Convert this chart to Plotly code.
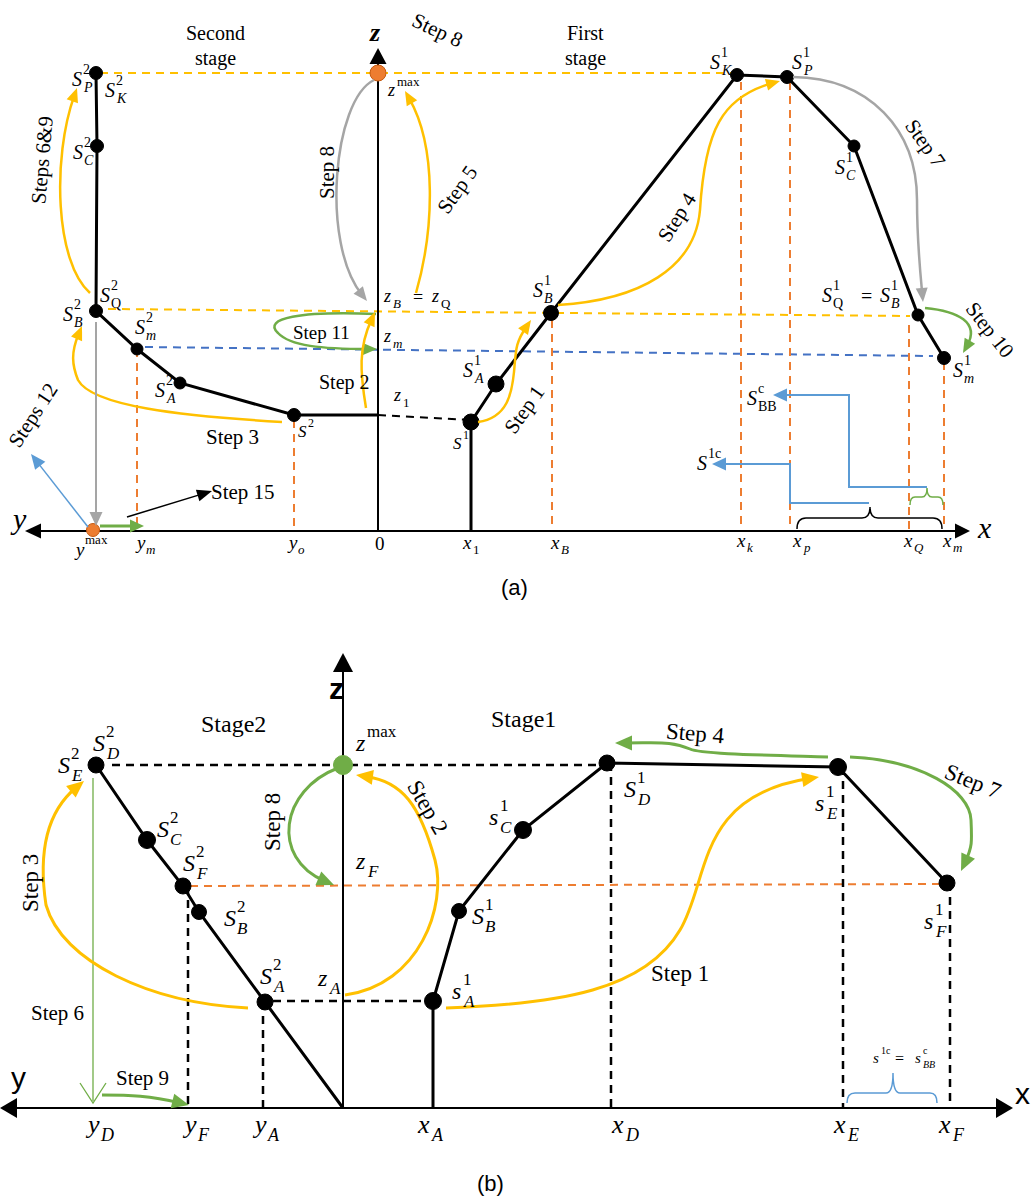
import math
import plotly.graph_objects as go

W, H = 1034, 1203
SERIF = "Liberation Serif"
SANS = "Liberation Sans"
YEL, ORG, BLU, LBL, GRN, GRY = "#FFC000", "#ED7D31", "#4472C4", "#5B9BD5", "#70AD47", "#A5A5A5"

# ---------------- Panel (a) data (pixel layout units) ----------------
a_axis_y = 531
a_axis_ends = [25, 970]
a_z_x = 378
a_z_top = 48
a_s2_x = [96, 97, 96, 137, 180, 294]          # S2_P, S2_C, S2_Q(B), S2_m, S2_A, S2
a_s2_y = [73, 146, 311, 349, 383, 415]
a_s2_size = [13, 13, 13, 12, 12, 13]
a_s1_x = [471, 496, 551, 737, 787, 854, 918, 944]  # S1, S1_A, S1_B, S1_K, S1_P, S1_C, S1_Q, S1_m
a_s1_y = [422, 384, 313, 75, 77, 146, 315, 358]
a_s1_size = [16, 16, 15, 13, 13, 12, 12, 13]
a_orange_x = [378, 93]
a_orange_y = [73, 530]
a_vguide_x = [137, 294, 552, 741, 790, 909, 944]
a_vguide_top = [349, 420, 320, 82, 82, 325, 362]
a_zmax_line_x = [100, 737]
a_zmax_line_y = [73, 73]
a_zb_line_x = [108, 910]
a_zb_line_y = [309, 316]
a_zm_line_x = [145, 933]
a_zm_line_y = [347, 356]
a_z1_line_x = [378, 471]
a_z1_line_y = [415, 420]
a_tick_x = [79, 140, 292, 467, 555, 741, 797, 908, 947]
a_tick_y = [549, 542, 542, 542, 542, 540, 540, 540, 540]
a_tick_base = ["y", "y", "y", "x", "x", "x", "x", "x", "x"]
a_tick_sup = ["max", "", "", "", "", "", "", "", ""]
a_tick_sub = ["", "m", "o", "1", "B", "k", "p", "Q", "m"]

# ---------------- Panel (b) data ----------------
b_axis_y = 1108
b_axis_ends = [0, 1013]
b_z_x = 343
b_z_top = 653
b_s2_x = [96, 147, 183, 199, 265, 343]        # S2_D/E, S2_C, S2_F, S2_B, S2_A, origin
b_s2_y = [765, 840, 886, 912, 1002, 1108]
b_s1_x = [433, 433, 459, 523, 607, 838, 947]  # base, S1_A, S1_B, S1_C, S1_D, S1_E, S1_F
b_s1_y = [1108, 1001, 911, 830, 763, 767, 883]
b_vguide_x = [188, 263, 611, 843, 950]
b_vguide_top = [886, 1002, 763, 767, 883]
b_top_line_x = [112, 607]
b_top_line_y = [765, 765]
b_za_line_x = [273, 433]
b_za_line_y = [1001, 1001]
b_zf_line_x = [190, 947]
b_zf_line_y = [886, 884]
b_tick_x = [92, 189, 259, 423, 617, 839, 944]
b_tick_base = ["y", "y", "y", "x", "x", "x", "x"]
b_tick_sub = ["D", "F", "A", "A", "D", "E", "F"]

fig = go.Figure()
shapes = []
annots = []


def line_trace(xs, ys, color, width, dash=None):
    fig.add_trace(go.Scatter(x=xs, y=ys, mode="lines", hoverinfo="skip", showlegend=False,
                             line=dict(color=color, width=width, dash=dash)))


def pts_trace(xs, ys, size, color="black", lc=None):
    fig.add_trace(go.Scatter(x=xs, y=ys, mode="markers", hoverinfo="skip", showlegend=False,
                             marker=dict(size=size, color=color, opacity=1,
                                         line=dict(color=lc or color, width=1))))


def path(d, color, width=2.5, fill=None):
    s = dict(type="path", path=d, xref="x", yref="y", line=dict(color=color, width=width))
    if fill:
        s["fillcolor"] = fill
        s["line"]["width"] = 0
    shapes.append(s)


def head(tip, frm, L, Wd, color, open_=False, lw=1.5):
    dx, dy = tip[0] - frm[0], tip[1] - frm[1]
    n = math.hypot(dx, dy)
    ux, uy = dx / n, dy / n
    bx, by = tip[0] - ux * L, tip[1] - uy * L
    px, py = -uy, ux
    p1 = (bx + px * Wd / 2, by + py * Wd / 2)
    p2 = (bx - px * Wd / 2, by - py * Wd / 2)
    if open_:
        path(f"M {p1[0]},{p1[1]} L {tip[0]},{tip[1]} L {p2[0]},{p2[1]}", color, lw)
    else:
        path(f"M {tip[0]},{tip[1]} L {p1[0]},{p1[1]} L {p2[0]},{p2[1]} Z", color, 0, fill=color)


def curve(pts, color, width=2.5, L=14, Wd=12):
    tip, c2 = pts[-1], pts[-2]
    dx, dy = tip[0] - c2[0], tip[1] - c2[1]
    n = math.hypot(dx, dy)
    sh = L * 0.6
    end = (tip[0] - dx / n * sh, tip[1] - dy / n * sh)
    c2s = (c2[0] - dx / n * sh, c2[1] - dy / n * sh)
    p = list(pts[:-2]) + [c2s, end]
    d = f"M {p[0][0]},{p[0][1]}"
    for i in range(1, len(p), 3):
        d += f" C {p[i][0]},{p[i][1]} {p[i+1][0]},{p[i+1][1]} {p[i+2][0]},{p[i+2][1]}"
    path(d, color, width)
    head(tip, c2, L, Wd, color)


def arrow(p0, p1, color, width=2, L=13, Wd=11):
    dx, dy = p1[0] - p0[0], p1[1] - p0[1]
    n = math.hypot(dx, dy)
    e = (p1[0] - dx / n * L * 0.6, p1[1] - dy / n * L * 0.6)
    path(f"M {p0[0]},{p0[1]} L {e[0]},{e[1]}", color, width)
    head(p1, p0, L, Wd, color)


def poly_arrow(pts, color, width=2, L=14, Wd=13):
    tip, frm = pts[-1], pts[-2]
    dx, dy = tip[0] - frm[0], tip[1] - frm[1]
    n = math.hypot(dx, dy)
    e = (tip[0] - dx / n * L * 0.6, tip[1] - dy / n * L * 0.6)
    p = list(pts[:-1]) + [e]
    d = "M " + " L ".join(f"{x},{y}" for x, y in p)
    path(d, color, width)
    head(tip, frm, L, Wd, color)


def txt(x, y, s, size=18, color="black", family=SERIF, angle=0, xanchor="center"):
    annots.append(dict(x=x, y=y, xref="x", yref="y", text=s, showarrow=False,
                       font=dict(size=size, color=color, family=family), textangle=angle,
                       xanchor=xanchor, yanchor="middle", borderpad=0))


def sym(x, y, base, sup="", sub="", size=20, sub_it=True):
    txt(x, y, f"<i>{base}</i>", size)
    small = round(size * 0.7)
    off = size * 0.27
    if sup:
        txt(x + off, y - size * 0.5, sup, small, xanchor="left")
    if sub:
        s = f"<i>{sub}</i>" if (sub_it and not sub.isdigit()) else sub
        txt(x + off, y + size * 0.42, s, small, xanchor="left")


# =============== Panel (a) ===============
line_trace(a_zmax_line_x, a_zmax_line_y, YEL, 2, "8px,6px")
line_trace(a_zb_line_x, a_zb_line_y, YEL, 2, "8px,6px")
line_trace(a_zm_line_x, a_zm_line_y, BLU, 2, "8px,6px")
for gx, gt in zip(a_vguide_x, a_vguide_top):
    line_trace([gx, gx], [gt, a_axis_y], ORG, 2, "8px,6px")
line_trace(a_z1_line_x, a_z1_line_y, "black", 2, "8px,6px")
line_trace([a_axis_ends[0] + 10, a_axis_ends[1] - 10], [a_axis_y, a_axis_y], "black", 2)
line_trace([a_z_x, a_z_x], [a_axis_y, a_z_top + 10], "black", 2)
head((a_axis_ends[0], a_axis_y), (a_axis_ends[0] + 20, a_axis_y), 16, 15, "black")
head((a_axis_ends[1], a_axis_y), (a_axis_ends[1] - 20, a_axis_y), 15, 15, "black")
head((a_z_x, a_z_top), (a_z_x, a_z_top + 20), 16, 17, "black")
line_trace(a_s2_x + [a_z_x], a_s2_y + [a_s2_y[-1]], "black", 3)
line_trace([a_s1_x[0]] + a_s1_x, [a_axis_y] + a_s1_y, "black", 3)

curve([(90, 293), (55, 262), (55, 150), (77, 88)], YEL)                       # Steps 6&9
curve([(374, 80), (333, 100), (326, 250), (367, 301)], GRY)                   # Step 8
curve([(416, 293), (434, 230), (433, 140), (405, 91)], YEL)                   # Step 5
curve([(376, 314), (300, 311), (262, 318), (278, 333), (290, 346), (330, 349), (377, 349)], GRN)  # Step 11
curve([(366, 408), (360, 372), (362, 340), (375, 312)], YEL)                  # Step 2
curve([(282, 422), (180, 416), (92, 406), (78, 380), (72, 365), (74, 345), (82, 326)], YEL)  # Step 3
curve([(478, 422), (508, 418), (512, 392), (514, 372), (516, 350), (520, 336), (531, 320)], YEL)  # Step 1
curve([(558, 305), (640, 300), (695, 268), (700, 210), (705, 130), (730, 95), (780, 81)], YEL)  # Step 4
curve([(793, 77), (870, 78), (917, 130), (917, 200), (917, 240), (920, 270), (923, 302)], GRY)  # Step 7
curve([(925, 308), (958, 311), (976, 330), (963, 353)], GRN)                  # Step 10
arrow((96, 322), (96, 526), GRY, 2, 14, 13)
arrow((100, 526), (144, 526), GRN, 3, 14, 13)
arrow((88, 527), (31, 454), LBL, 1.5, 15, 13)
arrow((127, 517), (212, 491), "black", 1.5, 15, 12)
poly_arrow([(927, 487), (849, 487), (849, 395), (773, 395)], LBL, 2)
poly_arrow([(869, 503), (790, 503), (790, 464), (712, 464)], LBL, 2)
path("M 797,529 Q 797,518 806,518 L 862,518 Q 870,518 870,507 Q 870,518 878,518 L 933,518 Q 942,518 942,529", "black", 1.5)
path("M 910,505 Q 910,497 915,497 L 922,497 Q 927,497 927,488 Q 927,497 932,497 L 938,497 Q 943,497 943,505", GRN, 1.5)

pts_trace(a_s2_x, a_s2_y, a_s2_size)
pts_trace(a_s1_x, a_s1_y, a_s1_size)
pts_trace(a_orange_x, a_orange_y, [16, 13], ORG, "#C55A11")

txt(215, 33, "Second", 20)
txt(215, 58, "stage", 20)
txt(585, 33, "First", 20)
txt(585, 58, "stage", 20)
txt(375, 32, "<i><b>z</b></i>", 26)
txt(18, 518, "<i>y</i>", 30)
txt(984, 527, "<i>x</i>", 30)
txt(437, 30, "Step 8", 21, angle=25)
txt(42, 160, "Steps 6&9", 21, angle=-85)
txt(327, 173, "Step 8", 21, angle=-90)
txt(457, 190, "Step 5", 21, angle=-55)
txt(677, 217, "Step 4", 21, angle=-58)
txt(925, 143, "Step 7", 21, angle=55)
txt(990, 330, "Step 10", 21, angle=52)
txt(321, 332, "Step 11", 19)
txt(344, 382, "Step 2", 20)
txt(232, 437, "Step 3", 21)
txt(524, 410, "Step 1", 21, angle=-55)
txt(33, 415, "Steps 12", 21, angle=-57)
txt(243, 492, "Step 15", 21)
txt(514, 587, "(a)", 22, family=SANS)

sym(77, 79, "S", "2", "P")
sym(110, 90, "S", "2", "K")
sym(78, 152, "S", "2", "C")
sym(105, 295, "S", "2", "Q", sub_it=False)
sym(68, 314, "S", "2", "B")
sym(140, 327, "S", "2", "m")
sym(160, 390, "S", "2", "A")
sym(302, 431, "S", "2", "", size=17)
sym(457, 443, "S", "1", "", size=17)
sym(468, 370, "S", "1", "A")
sym(538, 290, "S", "1", "B")
sym(715, 62, "S", "1", "K")
sym(797, 62, "S", "1", "P")
sym(840, 167, "S", "1", "C")
sym(827, 295, "S", "1", "Q", sub_it=False)
txt(866, 296, "=", 20)
sym(885, 295, "S", "1", "B")
sym(958, 370, "S", "1", "m")
sym(752, 398, "S", "c", "BB", sub_it=False)
sym(702, 463, "S", "1c", "")
sym(391, 90, "z", "max", "", size=18)
sym(387, 296, "z", "", "B", size=18)
txt(418, 297, "=", 18)
sym(435, 296, "z", "", "Q", size=18, sub_it=False)
sym(387, 336, "z", "", "m", size=18)
sym(397, 395, "z", "", "1", size=18)
for tx, ty, tb, tsp, tsb in zip(a_tick_x, a_tick_y, a_tick_base, a_tick_sup, a_tick_sub):
    sym(tx, ty, tb, tsp, tsb, size=19)
txt(380, 543, "0", 19)

# =============== Panel (b) ===============
line_trace(b_top_line_x, b_top_line_y, "black", 2.5, "8px,6px")
line_trace(b_za_line_x, b_za_line_y, "black", 2.5, "8px,6px")
line_trace(b_zf_line_x, b_zf_line_y, ORG, 2, "8px,6px")
for gx, gt in zip(b_vguide_x, b_vguide_top):
    line_trace([gx, gx], [gt, b_axis_y], "black", 2.5, "8px,6px")
line_trace([b_axis_ends[0] + 10, b_axis_ends[1] - 10], [b_axis_y, b_axis_y], "black", 2)
line_trace([b_z_x, b_z_x], [b_axis_y, b_z_top + 10], "black", 2)
head((b_axis_ends[0], b_axis_y), (b_axis_ends[0] + 20, b_axis_y), 17, 20, "black")
head((b_axis_ends[1], b_axis_y), (b_axis_ends[1] - 20, b_axis_y), 17, 20, "black")
head((b_z_x, b_z_top), (b_z_x, b_z_top + 20), 19, 20, "black")
line_trace(b_s2_x, b_s2_y, "black", 3)
line_trace(b_s1_x, b_s1_y, "black", 3)
line_trace([93, 93], [778, 1101], GRN, 1.3)
head((93, 1103), (93, 1080), 20, 26, GRN, open_=True, lw=1.3)

curve([(248, 1008), (150, 1003), (62, 962), (46, 905), (38, 852), (55, 805), (84, 781)], YEL, 3, 17, 15)   # Step 3
curve([(338, 768), (280, 790), (280, 862), (334, 885)], GRN, 3, 17, 15)                                    # Step 8
curve([(345, 995), (420, 985), (447, 905), (435, 860), (420, 805), (392, 780), (356, 775)], YEL, 3, 17, 15)  # Step 2
curve([(446, 1008), (560, 1004), (645, 990), (680, 930), (710, 880), (705, 795), (819, 777)], YEL, 3, 17, 15)  # Step 1
curve([(828, 757), (760, 755), (700, 754), (690, 749), (672, 741), (650, 743), (615, 743)], GRN, 3, 17, 15)  # Step 4
curve([(850, 757), (920, 760), (970, 790), (971, 820), (972, 842), (968, 856), (961, 871)], GRN, 3, 17, 15)  # Step 7
curve([(102, 1095), (130, 1095), (160, 1098), (189, 1105)], GRN, 3, 17, 15)                                # Step 9
path("M 847,1103 Q 847,1093 855,1093 L 886,1093 Q 893,1093 893,1073 Q 893,1093 900,1093 L 930,1093 Q 937,1093 937,1103", LBL, 1.5)

pts_trace(b_s2_x[:5], b_s2_y[:5], [16, 17, 16, 15, 16])
pts_trace(b_s1_x[1:], b_s1_y[1:], [17, 15, 17, 16, 17, 16])
pts_trace([b_z_x], [b_top_line_y[0]], [19], GRN)

txt(336, 688, "<b>z</b>", 30, family=SANS)
txt(18, 1077, "y", 30, family=SANS)
txt(1022, 1093, "x", 30, family=SANS)
txt(233, 724, "Stage2", 24)
txt(523, 719, "Stage1", 24)
txt(30, 883, "Step 3", 23, angle=-90)
txt(272, 822, "Step 8", 23, angle=-90)
txt(428, 807, "Step 2", 23, angle=60)
txt(695, 733, "Step 4", 23, angle=5)
txt(973, 781, "Step 7", 23, angle=22)
txt(680, 973, "Step 1", 23)
txt(57, 1013, "Step 6", 21)
txt(142, 1078, "Step 9", 21)
txt(490, 1183, "(b)", 22, family=SANS)

sym(64, 765, "S", "2", "E", size=24)
sym(99, 743, "S", "2", "D", size=24)
sym(163, 829, "S", "2", "C", size=24)
sym(189, 863, "S", "2", "F", size=24)
sym(230, 918, "S", "2", "B", size=24)
sym(266, 976, "S", "2", "A", size=24)
sym(322, 978, "z", "", "A", size=24)
sym(456, 991, "s", "1", "A", size=24)
sym(478, 916, "S", "1", "B", size=24)
sym(493, 817, "s", "1", "C", size=24)
sym(630, 789, "S", "1", "D", size=24)
sym(360, 743, "z", "max", "", size=24)
sym(360, 861, "z", "", "F", size=24)
sym(819, 803, "s", "1", "E", size=24)
sym(928, 921, "s", "1", "F", size=24)
sym(876, 1058, "s", "1c", "", size=15)
txt(899, 1058, "=", 16)
sym(918, 1058, "s", "c", "BB", size=15)
for tx, tb, tsb in zip(b_tick_x, b_tick_base, b_tick_sub):
    sym(tx, 1124, tb, "", tsb, size=26)

fig.update_layout(
    width=W, height=H, margin=dict(l=0, r=0, t=0, b=0),
    paper_bgcolor="white", plot_bgcolor="white", showlegend=False,
    xaxis=dict(range=[0, W], visible=False, fixedrange=True),
    yaxis=dict(range=[H, 0], visible=False, fixedrange=True),
    shapes=shapes, annotations=annots,
)
fig.write_html("out.html", config={"displayModeBar": False},
               post_script="document.body.style.margin='0';")
